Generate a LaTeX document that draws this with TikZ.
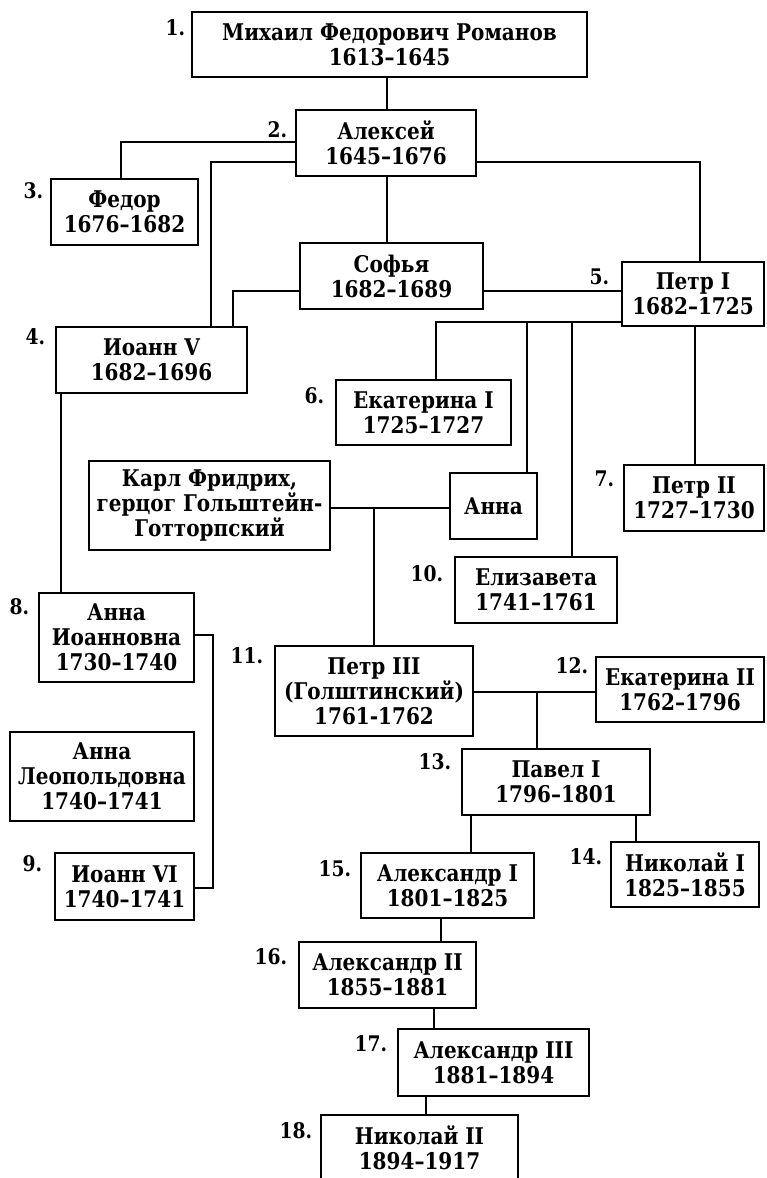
\documentclass[tikz,border=0pt]{standalone}
\usepackage{fontspec}
\setmainfont{DejaVu Serif}[FakeStretch=0.87]
\begin{document}
\begin{tikzpicture}[x=1pt,y=-1pt,line width=1.7pt,
  box/.style={draw,line width=1.9pt,inner sep=0pt,align=center,
    font=\bfseries\fontsize{23}{25}\selectfont},
  lab/.style={inner sep=0pt,anchor=base east,font=\bfseries\fontsize{21.5}{24}\selectfont}]
\useasboundingbox (0,0) rectangle (766,1178);
\clip (0,0) rectangle (766,1178);
% boxes
\node[box,minimum width=395pt,minimum height=65pt] (b1) at (389.5,44.5) {Михаил Федорович Романов\\1613–1645};
\node[box,minimum width=180pt,minimum height=66pt] (b2) at (386,143) {Алексей\\1645–1676};
\node[box,minimum width=147pt,minimum height=66pt] (b3) at (124.5,212) {Федор\\1676–1682};
\node[box,minimum width=183pt,minimum height=66pt] (sofia) at (391.5,276) {Софья\\1682–1689};
\node[box,minimum width=191pt,minimum height=66pt] (b4) at (151.5,360) {Иоанн V\\1682–1696};
\node[box,minimum width=142pt,minimum height=64pt] (b5) at (693,294) {Петр I\\1682–1725};
\node[box,minimum width=175pt,minimum height=65pt] (b6) at (423.5,412.5) {Екатерина I\\1725–1727};
\node[box,minimum width=140pt,minimum height=66pt] (b7) at (694,498) {Петр II\\1727–1730};
\node[box,minimum width=241pt,minimum height=89pt] (karl) at (209.5,505.5) {Карл Фридрих,\\герцог Гольштейн-\\Готторпский};
\node[box,minimum width=87pt,minimum height=66pt] (anna) at (493.5,506) {Анна};
\node[box,minimum width=162pt,minimum height=66pt] (b10) at (536,590) {Елизавета\\1741–1761};
\node[box,minimum width=155pt,minimum height=89pt] (b8) at (116.5,637.5) {Анна\\Иоанновна\\1730–1740};
\node[box,minimum width=198pt,minimum height=90pt] (b11) at (374,691) {Петр III\\(Голштинский)\\1761-1762};
\node[box,minimum width=168pt,minimum height=65pt] (b12) at (680,689.5) {Екатерина II\\1762–1796};
\node[box,minimum width=184pt,minimum height=89pt] (annal) at (102,776.5) {Анна\\Леопольдовна\\1740–1741};
\node[box,minimum width=188pt,minimum height=66pt] (b13) at (556,782) {Павел I\\1796–1801};
\node[box,minimum width=139pt,minimum height=67pt] (b9) at (124.5,886.5) {Иоанн VI\\1740–1741};
\node[box,minimum width=173pt,minimum height=65pt] (b15) at (447.5,885.5) {Александр I\\1801–1825};
\node[box,minimum width=148pt,minimum height=65pt] (b14) at (685,874.5) {Николай I\\1825–1855};
\node[box,minimum width=177pt,minimum height=66pt] (b16) at (387.5,975) {Александр II\\1855–1881};
\node[box,minimum width=191pt,minimum height=67pt] (b17) at (493.5,1062.5) {Александр III\\1881–1894};
\node[box,minimum width=197pt,minimum height=66pt] (b18) at (419.5,1148) {Николай II\\1894–1917};
% labels
\node[lab] (l1) at (186,35) {1.};
\node[lab] (l2) at (288,137) {2.};
\node[lab] (l3) at (44,198) {3.};
\node[lab] (l4) at (46,344) {4.};
\node[lab] (l5) at (610,284) {5.};
\node[lab] (l6) at (325,403) {6.};
\node[lab] (l7) at (615,486) {7.};
\node[lab] (l8) at (30,614) {8.};
\node[lab] (l9) at (43,871) {9.};
\node[lab] (l10) at (444,581) {10.};
\node[lab] (l11) at (264,663) {11.};
\node[lab] (l12) at (589,673) {12.};
\node[lab] (l13) at (452,769) {13.};
\node[lab] (l14) at (603,864) {14.};
\node[lab] (l15) at (352,876) {15.};
\node[lab] (l16) at (288,964) {16.};
\node[lab] (l17) at (388,1051) {17.};
\node[lab] (l18) at (313,1138) {18.};
% helper coordinates
\coordinate (v1) at (387,0);
\coordinate (c3) at (121,142);
\coordinate (c4) at (211,162);
\coordinate (c5) at (700,162);
\coordinate (c6) at (233,291);
\coordinate (c7) at (436,322);
\coordinate (c8) at (527,322);
\coordinate (c9) at (572,322);
\coordinate (c10) at (695,0);
\coordinate (c11) at (61,0);
\coordinate (c12) at (374,508);
\coordinate (c13) at (213,635);
\coordinate (c13b) at (213,888);
\coordinate (c14) at (537,692);
\coordinate (c15) at (471,0);
\coordinate (c16) at (636,0);
\coordinate (c17) at (441,0);
\coordinate (c18) at (434,0);
\coordinate (c19) at (426,0);
% connectors
\draw (b1.south -| v1) -- (b2.north -| v1);
\draw (b2.south -| v1) -- (sofia.north -| v1);
\draw (b2.west |- c3) -| (b3.north -| c3);
\draw (b2.west |- c4) -| (b4.north -| c4);
\draw (b2.east |- c5) -| (b5.north -| c5);
\draw (sofia.west |- c6) -| (b4.north -| c6);
\draw (sofia.east |- c6) -- (b5.west |- c6);
\draw (b5.west |- c7) -| (b6.north -| c7);
\draw (c8) -- (anna.north -| c8);
\draw (c9) -- (b10.north -| c9);
\draw (b5.south -| c10) -- (b7.north -| c10);
\draw (b4.south -| c11) -- (b8.north -| c11);
\draw (karl.east |- c12) -- (anna.west |- c12);
\draw (c12) -- (b11.north -| c12);
\draw (b8.east |- c13) -- (c13) -- (c13b) -- (b9.east |- c13b);
\draw (b11.east |- c14) -- (b12.west |- c14);
\draw (c14) -- (b13.north -| c14);
\draw (b13.south -| c15) -- (b15.north -| c15);
\draw (b13.south -| c16) -- (b14.north -| c16);
\draw (b15.south -| c17) -- (b16.north -| c17);
\draw (b16.south -| c18) -- (b17.north -| c18);
\draw (b17.south -| c19) -- (b18.north -| c19);
\end{tikzpicture}
\end{document}
